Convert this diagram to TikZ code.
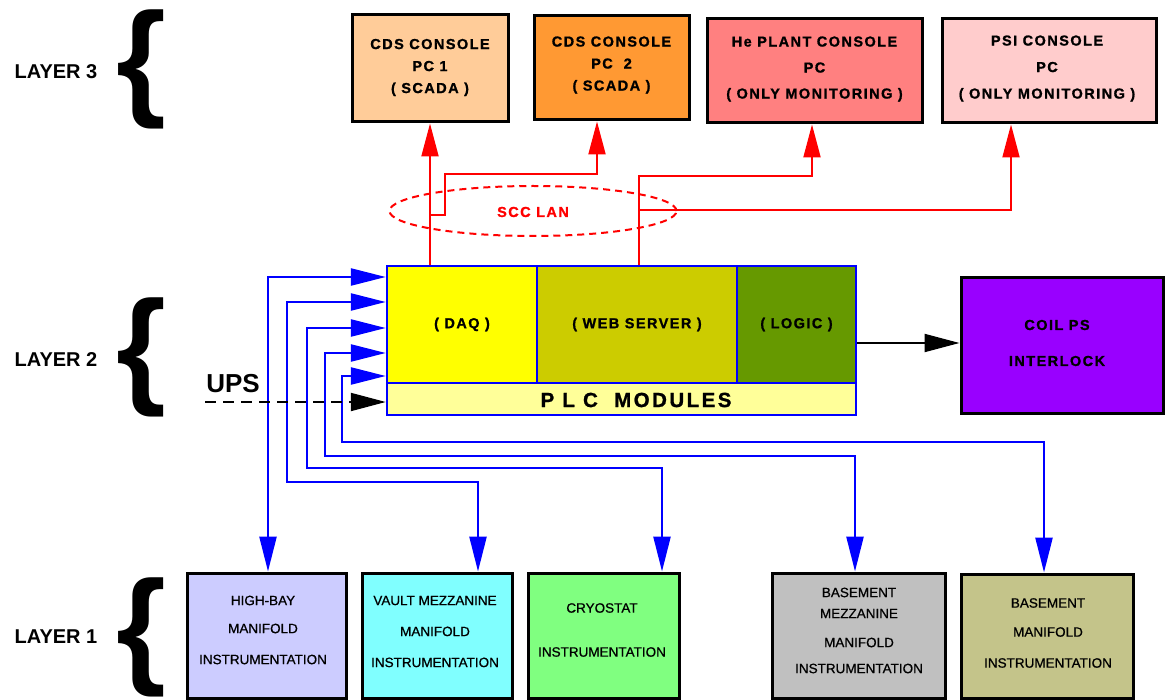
\documentclass[tikz,border=0pt]{standalone}
\usepackage{fontspec}
\setmainfont{Liberation Sans}
\newfontfamily\widefont{Liberation Sans}[LetterSpace=10, BoldFeatures={FakeBold=1}]
\newfontfamily\plcfont{Liberation Sans}[LetterSpace=12, BoldFeatures={FakeBold=1}]
\newfontfamily\botfont{Liberation Sans}[FakeBold=0.7]
\usetikzlibrary{arrows.meta,shapes.geometric}
\definecolor{cdsa}{HTML}{FFCC99}
\definecolor{cdsb}{HTML}{FF9933}
\definecolor{hecol}{HTML}{FF8080}
\definecolor{psicol}{HTML}{FFCCCC}
\definecolor{daqcol}{HTML}{FFFF00}
\definecolor{webcol}{HTML}{CCCC00}
\definecolor{logcol}{HTML}{669900}
\definecolor{modcol}{HTML}{FFFF99}
\definecolor{coilcol}{HTML}{9900FF}
\definecolor{hbcol}{HTML}{CCCCFF}
\definecolor{vaultcol}{HTML}{80FFFF}
\definecolor{cryocol}{HTML}{80FF80}
\definecolor{bmcol}{HTML}{C0C0C0}
\definecolor{basecol}{HTML}{C4C48A}
\begin{document}
\begin{tikzpicture}[x=1pt,y=-1pt,
  blkbox/.style={draw=black, line width=3pt, inner sep=0pt},
  plcbox/.style={draw=blue, line width=2.5pt, inner sep=0pt},
  toptxt/.style={font={\widefont\bfseries\fontsize{14.5}{22}\selectfont}, align=center, inner sep=0pt},
  bottxt/.style={font={\botfont\fontsize{13.5}{28}\selectfont}, align=center, inner sep=0pt},
  layertxt/.style={font={\bfseries\fontsize{20}{24}\selectfont}, inner sep=0pt},
  bracetxt/.style={font={\bfseries\fontsize{128}{130}\selectfont}, inner sep=0pt},
  redl/.style={draw=red, line width=2pt},
  redarr/.style={redl, -{Triangle[length=33pt,width=17pt]}},
  bluearr/.style={draw=blue, line width=2.5pt, {Triangle[length=35pt,width=17pt]}-{Triangle[length=35pt,width=17pt]}},
  blkarr/.style={draw=black, line width=2pt, -{Triangle[length=35pt,width=18pt]}}
]
\useasboundingbox (0,0) rectangle (1166,700);
\fill[white] (0,0) rectangle (1166,700);

% layer labels and braces
\node[layertxt] (l3) at (56,72) {LAYER 3};
\node[layertxt] (l2) at (56,360) {LAYER 2};
\node[layertxt] (l1) at (56,637) {LAYER 1};
\node[bracetxt] (b3) at (141,69) {\{};
\node[bracetxt] (b2) at (141,357) {\{};
\node[bracetxt] (b1) at (141,637) {\{};

% layer 3 boxes
\node[blkbox, fill=cdsa, minimum width=156, minimum height=107] (cds1) at (430,68.5) {};
\node[blkbox, fill=cdsb, minimum width=155, minimum height=104] (cds2) at (611.5,68) {};
\node[blkbox, fill=hecol, minimum width=215, minimum height=104] (he) at (814.5,71) {};
\node[blkbox, fill=psicol, minimum width=214, minimum height=104] (psi) at (1049,71) {};
\node[toptxt] (t1) at (430,67.5) {CDS CONSOLE\\PC 1\\( SCADA )};
\node[toptxt] (t2) at (611.5,65) {CDS CONSOLE\\PC\ \ 2\\( SCADA )};
\node[toptxt, font={\widefont\bfseries\fontsize{14.5}{26}\selectfont}] (t3) at (814.5,69) {He PLANT CONSOLE\\PC\hspace*{44pt}\\( ONLY MONITORING )};
\node[toptxt, font={\widefont\bfseries\fontsize{14.5}{26.5}\selectfont}] (t4) at (1047,68.5) {PSI CONSOLE\\PC\\( ONLY MONITORING )};

% layer 2 PLC
\node[plcbox, fill=daqcol, minimum width=150, minimum height=117, toptxt] (daq) at (462,324.5) {( DAQ )};
\node[plcbox, fill=webcol, minimum width=200, minimum height=117, toptxt] (web) at (637,324.5) {( WEB SERVER )};
\node[plcbox, fill=logcol, minimum width=119, minimum height=117, toptxt] (logic) at (796.5,324.5) {( LOGIC )};
\node[plcbox, fill=modcol, minimum width=469, minimum height=32] (mods) at (621.5,399) {};
\node[font={\plcfont\bfseries\fontsize{20.5}{24}\selectfont}, inner sep=0pt] (modtxt) at (636,400) {P L C\ \ MODULES};
\node[plcbox, minimum width=469, minimum height=149] (plc) at (621.5,340.5) {};

\node[blkbox, fill=coilcol, minimum width=202, minimum height=135] (coil) at (1062,345.5) {};
\node[toptxt, font={\widefont\bfseries\fontsize{14.5}{36}\selectfont}] (coiltxt) at (1057,343) {COIL PS\\INTERLOCK};

% layer 1 boxes
\node[blkbox, fill=hbcol, minimum width=159, minimum height=125] (hb) at (266.5,635.5) {};
\node[blkbox, fill=vaultcol, minimum width=150, minimum height=125] (vault) at (437,635.5) {};
\node[blkbox, fill=cryocol, minimum width=151, minimum height=125] (cryo) at (603.5,635.5) {};
\node[blkbox, fill=bmcol, minimum width=173, minimum height=125] (bm) at (858.5,635.5) {};
\node[blkbox, fill=basecol, minimum width=172, minimum height=124] (base) at (1047,636) {};
\node[bottxt] (hbt) at (263,630) {HIGH-BAY\\MANIFOLD\\[3pt]INSTRUMENTATION};
\node[bottxt, font={\botfont\fontsize{13.5}{31}\selectfont}] (vaultt) at (435,631.5) {VAULT MEZZANINE\\MANIFOLD\\INSTRUMENTATION};
\node[bottxt, font={\botfont\fontsize{13.5}{44}\selectfont}] (cryot) at (602,630) {CRYOSTAT\\INSTRUMENTATION};
\node[bottxt, font={\botfont\fontsize{13.5}{21}\selectfont}] (bmt) at (859,630.5) {BASEMENT\\MEZZANINE\\[8pt]MANIFOLD\\[5pt]INSTRUMENTATION};
\node[bottxt, font={\botfont\fontsize{13.5}{29}\selectfont}] (baset) at (1048,633) {BASEMENT\\MANIFOLD\\[2pt]INSTRUMENTATION};

% SCC LAN
\node[draw=red, dash pattern=on 7pt off 5pt, line width=2pt, ellipse, minimum width=287, minimum height=50, inner sep=0pt] (lan) at (533,211) {};
\node[text=red, font={\widefont\bfseries\fontsize{14.5}{16}\selectfont}, inner sep=0pt] (lantxt) at (533,212) {SCC LAN};

% red network links
\draw[redarr] (430,0 |- plc.north) -- (cds1.south);
\draw[redarr] (430,215) -- (445,215) -- (445,174) -- (597,174) -- (597,0 |- cds2.south);
\draw[redarr] (639,0 |- plc.north) -- (639,176) -- (812,176) -- (812,0 |- he.south);
\draw[redarr] (639,210) -- (1011,210) -- (1011,0 |- psi.south);

% blue instrumentation links
\draw[bluearr] (plc.west |- 0,277) -- (268,277) -- (268,0 |- hb.north);
\draw[bluearr] (plc.west |- 0,302) -- (287,302) -- (287,482) -- (478,482) -- (478,0 |- vault.north);
\draw[bluearr] (plc.west |- 0,328) -- (307,328) -- (307,468) -- (662,468) -- (662,0 |- cryo.north);
\draw[bluearr] (plc.west |- 0,353) -- (325,353) -- (325,456) -- (855,456) -- (855,0 |- bm.north);
\draw[bluearr] (plc.west |- 0,376) -- (342,376) -- (342,442) -- (1044,442) -- (1044,0 |- base.north);

% UPS
\node[font={\bfseries\fontsize{26}{30}\selectfont}, inner sep=0pt] (ups) at (233,384) {UPS};
\coordinate (upsstart) at (205,402);
\draw[blkarr, dash pattern=on 11pt off 7pt] (upsstart) -- (plc.west |- upsstart);

% logic to coil
\draw[blkarr] (plc.east |- 0,343) -- (coil.west |- 0,343);
\end{tikzpicture}
\end{document}
